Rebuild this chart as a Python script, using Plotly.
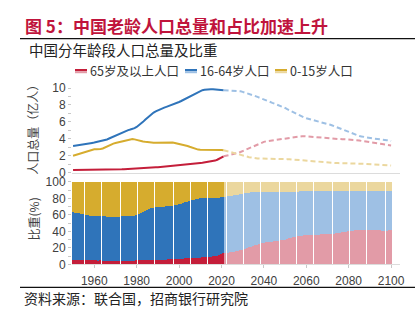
import plotly.graph_objects as go

# China population by age group, 1950-2100 (hundred million people)
years = list(range(1950, 2101))
last_hist_year = 2021

pop_65_plus = [
    0.30, 0.30, 0.30, 0.30, 0.31, 0.31, 0.31, 0.31, 0.31, 0.32,
    0.32, 0.32, 0.32, 0.33, 0.33, 0.33, 0.33, 0.34, 0.34, 0.34,
    0.35, 0.36, 0.37, 0.38, 0.39, 0.40, 0.41, 0.43, 0.44, 0.45,
    0.47, 0.48, 0.50, 0.51, 0.53, 0.55, 0.57, 0.59, 0.61, 0.62,
    0.64, 0.66, 0.68, 0.70, 0.72, 0.74, 0.76, 0.79, 0.81, 0.84,
    0.87, 0.89, 0.92, 0.94, 0.97, 1.00, 1.02, 1.05, 1.08, 1.10,
    1.13, 1.16, 1.19, 1.23, 1.27, 1.32, 1.37, 1.42, 1.52, 1.64,
    1.78, 1.92,
    1.97, 2.02, 2.07, 2.13, 2.19, 2.26, 2.34, 2.44,
    2.55, 2.67, 2.80, 2.92, 3.03, 3.13, 3.23, 3.34, 3.45, 3.55,
    3.63, 3.70, 3.74, 3.78, 3.81, 3.84, 3.86, 3.88, 3.90, 3.94,
    3.99, 4.05, 4.11, 4.17, 4.22, 4.26, 4.28, 4.30, 4.30, 4.30,
    4.28, 4.26, 4.23, 4.20, 4.17, 4.14, 4.11, 4.08, 4.05, 4.02,
    4.00, 3.98, 3.97, 3.96, 3.96, 3.95, 3.95, 3.94, 3.94, 3.93,
    3.93, 3.92, 3.92, 3.89, 3.85, 3.80, 3.75, 3.70, 3.66, 3.63,
    3.59, 3.56, 3.52, 3.48, 3.44, 3.40, 3.36, 3.32, 3.28, 3.24, 3.21,
]

pop_16_64 = [
    3.15, 3.18, 3.22, 3.26, 3.30, 3.35, 3.39, 3.43, 3.47, 3.51,
    3.55, 3.60, 3.65, 3.70, 3.75, 3.82, 3.92, 4.03, 4.15, 4.28,
    4.40, 4.52, 4.63, 4.74, 4.85, 4.94, 5.02, 5.09, 5.15, 5.25,
    5.40, 5.58, 5.78, 6.00, 6.24, 6.48, 6.72, 6.92, 7.10, 7.25,
    7.38, 7.50, 7.60, 7.69, 7.78, 7.86, 7.95, 8.04, 8.14, 8.24,
    8.35, 8.47, 8.60, 8.74, 8.87, 9.00, 9.15, 9.30, 9.45, 9.58,
    9.68, 9.75, 9.80, 9.84, 9.86, 9.86, 9.85, 9.83, 9.80, 9.78,
    9.76, 9.75,
    9.74, 9.73, 9.72, 9.72, 9.71, 9.70, 9.67, 9.62,
    9.55, 9.48, 9.40, 9.32, 9.23, 9.14, 9.05, 8.95, 8.84, 8.72,
    8.60, 8.52, 8.43, 8.34, 8.25, 8.16, 8.07, 7.98, 7.90, 7.78,
    7.64, 7.50, 7.37, 7.23, 7.10, 6.98, 6.86, 6.75, 6.63, 6.52,
    6.42, 6.36, 6.29, 6.22, 6.15, 6.10, 6.04, 5.98, 5.93, 5.85,
    5.77, 5.68, 5.60, 5.50, 5.40, 5.30, 5.20, 5.10, 5.00, 4.90,
    4.78, 4.66, 4.55, 4.47, 4.39, 4.33, 4.28, 4.22, 4.16, 4.11,
    4.08, 4.05, 4.02, 4.00, 3.98, 3.95, 3.92, 3.88, 3.83, 3.78, 3.74,
]

pop_0_15 = [
    2.00, 2.07, 2.14, 2.21, 2.28, 2.35, 2.43, 2.52, 2.62, 2.72,
    2.75, 2.76, 2.76, 2.78, 2.85, 2.97, 3.10, 3.25, 3.35, 3.43,
    3.50, 3.56, 3.62, 3.68, 3.74, 3.80, 3.86, 3.92, 3.96, 3.93,
    3.85, 3.78, 3.72, 3.68, 3.64, 3.60, 3.57, 3.55, 3.54, 3.54,
    3.55, 3.55, 3.56, 3.57, 3.58, 3.58, 3.57, 3.55, 3.50, 3.45,
    3.39, 3.34, 3.30, 3.22, 3.14, 3.05, 2.95, 2.85, 2.76, 2.72,
    2.70, 2.70, 2.71, 2.72, 2.72, 2.72, 2.73, 2.73, 2.72, 2.70,
    2.67, 2.64,
    2.58, 2.52, 2.46, 2.40, 2.34, 2.27, 2.20, 2.14,
    2.08, 1.99, 1.90, 1.82, 1.76, 1.72, 1.69, 1.67, 1.66, 1.66,
    1.66, 1.66, 1.66, 1.66, 1.66, 1.66, 1.66, 1.66, 1.65, 1.63,
    1.61, 1.59, 1.57, 1.55, 1.53, 1.51, 1.48, 1.45, 1.42, 1.39,
    1.36, 1.33, 1.30, 1.27, 1.25, 1.23, 1.21, 1.19, 1.18, 1.17,
    1.16, 1.15, 1.14, 1.13, 1.13, 1.12, 1.12, 1.11, 1.10, 1.10,
    1.09, 1.09, 1.08, 1.07, 1.06, 1.05, 1.04, 1.03, 1.02, 1.01,
    1.00, 0.99, 0.97, 0.95, 0.93, 0.92, 0.90, 0.88, 0.87, 0.85, 0.83,
]

series_names = ["65岁及以上人口", "16-64岁人口", "0-15岁人口"]
series_values = [pop_65_plus, pop_16_64, pop_0_15]
dark_colors = ["#C41E3A", "#2F74BA", "#D6AC2E"]
light_colors = ["#E29BA7", "#9EC0E4", "#EBD79E"]

W, H = 419, 326
ML, MR = 72, 19
PW = W - ML - MR


def px_x(px):
    return (px - ML) / PW


def px_y(py):
    return 1 - py / H


CJK = "Noto Sans CJK SC"
NUM = "Liberation Sans, Arial, sans-serif"

fig = go.Figure()

split = years.index(last_hist_year)
totals = [sum(v[i] for v in series_values) for i in range(len(years))]

for name, vals, dc, lc in zip(series_names, series_values, dark_colors, light_colors):
    # historical (solid) and projected (dashed) totals
    fig.add_trace(go.Scatter(
        x=years[: split + 1], y=vals[: split + 1], mode="lines",
        line=dict(color=dc, width=2), name=name, xaxis="x", yaxis="y",
        hoverinfo="skip",
    ))
    fig.add_trace(go.Scatter(
        x=years[split:], y=vals[split:], mode="lines",
        line=dict(color=lc, width=2, dash="5px,3px"), name=name,
        xaxis="x", yaxis="y", hoverinfo="skip",
    ))

for name, vals, dc, lc in zip(series_names, series_values, dark_colors, light_colors):
    shares = [v / t * 100 for v, t in zip(vals, totals)]
    colors = [dc if y <= last_hist_year else lc for y in years]
    fig.add_trace(go.Bar(
        x=years, y=shares, name=name, marker=dict(color=colors, line=dict(width=0)),
        xaxis="x2", yaxis="y2", hoverinfo="skip",
    ))

x_range = [1949.5, 2104.2]
axis_font = dict(family=NUM, size=12, color="#404040")

fig.update_layout(
    width=W, height=H,
    margin=dict(l=ML, r=MR, t=0, b=0),
    paper_bgcolor="white", plot_bgcolor="white",
    showlegend=False, barmode="stack", bargap=0.3,
    xaxis=dict(
        domain=[0, 1], range=x_range, anchor="y", showticklabels=False,
        showgrid=False, zeroline=False, showline=True, linecolor="#dcdcdc",
        linewidth=1, ticks="",
    ),
    yaxis=dict(
        domain=[px_y(173), px_y(84.7)], range=[0, 10], showgrid=False,
        zeroline=False, showline=False,
        tickvals=list(range(0, 11)),
        ticktext=[str(v) if v % 2 == 0 else "" for v in range(0, 11)],
        ticks="outside", ticklen=3, tickcolor="#c8c8c8", tickfont=axis_font,
    ),
    xaxis2=dict(
        domain=[0, 1], range=x_range, anchor="y2", showgrid=False,
        zeroline=False, showline=True, linecolor="#dcdcdc", linewidth=1,
        tickvals=list(range(1960, 2101, 20)), ticks="outside", ticklen=3,
        ticklabelstandoff=2,
        tickcolor="#c8c8c8", tickfont=dict(family=NUM, size=12, color="#404040"),
    ),
    yaxis2=dict(
        domain=[px_y(269), px_y(182.7)], range=[0, 100], showgrid=False,
        zeroline=False, showline=False,
        tickvals=list(range(0, 101, 10)),
        ticktext=[str(v) if v % 20 == 0 else "" for v in range(0, 101, 10)],
        ticks="outside", ticklen=3, tickcolor="#c8c8c8", tickfont=axis_font,
    ),
)

annotations = [
    dict(text="<b>图 5：中国老龄人口总量和占比加速上升</b>", x=px_x(23), y=px_y(19.5),
         xanchor="left", yanchor="middle", font=dict(family=CJK, size=17, color="#C0143C")),
    dict(text="中国分年龄段人口总量及比重", x=px_x(27), y=px_y(44),
         xanchor="left", yanchor="middle", font=dict(family=CJK, size=14.5, color="#222222")),
    dict(text="资料来源：联合国，招商银行研究院", x=px_x(22), y=px_y(304),
         xanchor="left", yanchor="middle", font=dict(family=CJK, size=14, color="#222222")),
    dict(text="人口总量（亿人）", x=px_x(33), y=px_y(125), textangle=-90,
         xanchor="center", yanchor="middle", font=dict(family=CJK, size=12, color="#404040")),
    dict(text="比重(%)", x=px_x(33), y=px_y(222), textangle=-90,
         xanchor="center", yanchor="middle", font=dict(family=CJK, size=12, color="#404040")),
]

shapes = [
    dict(type="line", xref="paper", yref="paper", x0=px_x(20), x1=px_x(415),
         y0=px_y(33), y1=px_y(33), line=dict(color="#111111", width=1.4)),
    dict(type="line", xref="paper", yref="paper", x0=px_x(20), x1=px_x(415),
         y0=px_y(293), y1=px_y(293), line=dict(color="#111111", width=1.4)),
]

# custom legend: two-tone swatch (history / projection) plus label
legend_x = [75, 185, 275]
for lx, name, dc, lc in zip(legend_x, series_names, dark_colors, light_colors):
    shapes.append(dict(type="rect", xref="paper", yref="paper", x0=px_x(lx), x1=px_x(lx + 12),
                       y0=px_y(67), y1=px_y(64.8), line=dict(width=0), fillcolor=dc))
    shapes.append(dict(type="rect", xref="paper", yref="paper", x0=px_x(lx), x1=px_x(lx + 12),
                       y0=px_y(69.2), y1=px_y(67), line=dict(width=0), fillcolor=lc))
    annotations.append(dict(text=name, x=px_x(lx + 12.5), y=px_y(66.5), xanchor="left",
                            yanchor="middle", font=dict(family=CJK, size=12.5, color="#333333")))

fig.update_layout(annotations=annotations, shapes=shapes)
for a in fig.layout.annotations:
    a.update(xref="paper", yref="paper", showarrow=False)

fig.write_html("out.html")
